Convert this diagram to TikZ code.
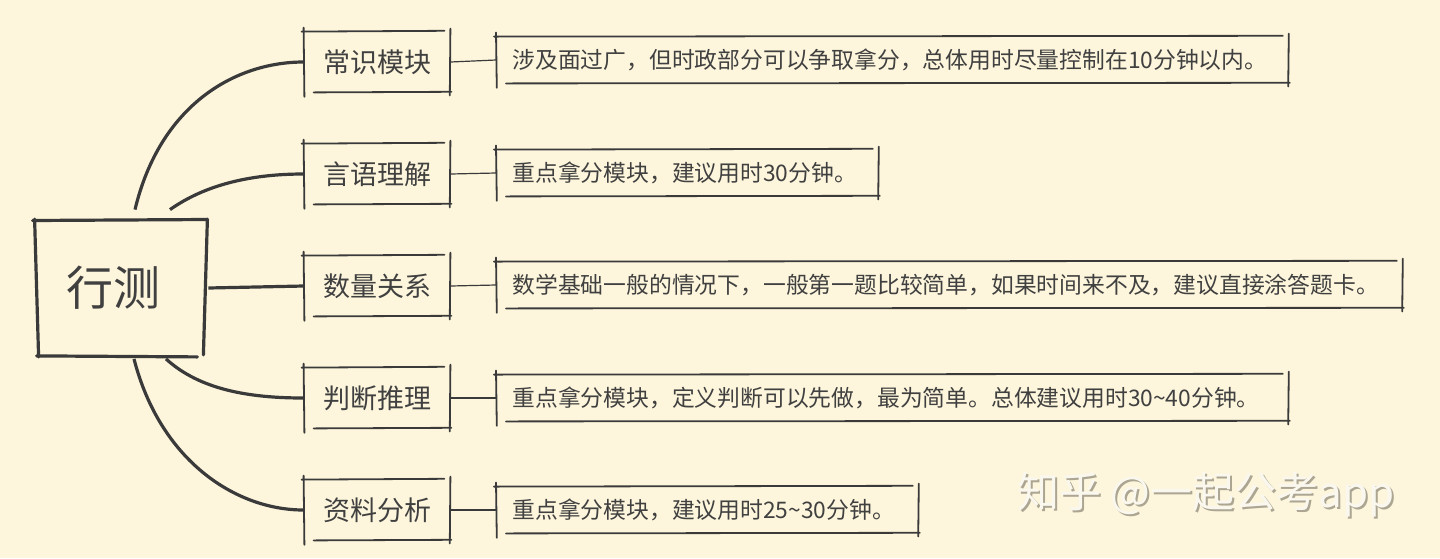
\documentclass[tikz,border=0pt]{standalone}
\usepackage{fontspec}
\setmainfont{Noto Sans CJK SC}
\usetikzlibrary{calc}
\definecolor{bg}{HTML}{FDF6DC}
\definecolor{ink}{HTML}{3A3A3A}
\definecolor{txt}{HTML}{404040}
\definecolor{wmshadow}{HTML}{ABA592}
\definecolor{wmfill}{HTML}{FAF7EE}
\tikzset{
  skl/.style={draw=ink, line cap=round},
  centerbox/.style={inner sep=0pt, minimum width=85pt, minimum height=66.5pt, text=txt, font=\fontsize{23.5}{28}\selectfont},
  catbox/.style={inner sep=0pt, minimum width=73pt, minimum height=30pt, text=txt, font=\fontsize{13.5}{16}\selectfont},
  descbox/.style={anchor=west, inner xsep=8pt, inner ysep=0pt, minimum height=23pt, align=left, text=txt, font=\fontsize{11.4}{14}\selectfont},
  branch/.style={draw=ink, line width=1.6pt},
  twig/.style={draw=ink, line width=0.6pt},
  wm/.style={font=\fontsize{21}{25}\selectfont}
}
\newcommand\skbox[2]{%
  \draw[skl,line width=#2] ([shift={(0pt,2pt)}]#1.north west) -- ([shift={(0.4pt,-2.2pt)}]#1.south west);
  \draw[skl,line width=#2] ([shift={(-1pt,0pt)}]#1.north west) -- ([shift={(-3pt,0.4pt)}]#1.north east);
  \draw[skl,line width=#2] ([shift={(0pt,1.5pt)}]#1.north east) -- ([shift={(-0.3pt,-1.5pt)}]#1.south east);
  \draw[skl,line width=#2] ([shift={(5pt,0pt)}]#1.south west) -- ([shift={(0.5pt,0.3pt)}]#1.south east);
}
\begin{document}
\begin{tikzpicture}[x=0.5pt,y=-0.5pt]
\fill[bg] (0,0) rectangle (1440,558);
\useasboundingbox (0,0) rectangle (1440,558);

% centre
\node[centerbox] (c) at (120,288) {\hspace*{-7pt}行测};
\draw[skl,line width=1.6pt] ([shift={(-1pt,0.3pt)}]c.north west) -- ([shift={(1pt,0.8pt)}]c.north east);
\draw[skl,line width=1.6pt] ([shift={(0pt,1pt)}]c.north west) -- ([shift={(2pt,-1pt)}]c.south west);
\draw[skl,line width=1.6pt] ([shift={(1pt,1pt)}]c.north east) -- ([shift={(-1pt,0pt)}]c.south east);
\draw[skl,line width=1.6pt] ([shift={(1pt,-0.5pt)}]c.south west) -- ([shift={(-4pt,-1pt)}]c.south east);

% categories
\node[catbox] (k1) at (377,62) {常识模块};
\node[catbox] (k2) at (377,174) {言语理解};
\node[catbox] (k3) at (377,286) {数量关系};
\node[catbox] (k4) at (377,398) {判断推理};
\node[catbox] (k5) at (377,510) {资料分析};
\foreach \k in {k1,k2,k3,k4,k5} {\skbox{\k}{0.9pt}}

% descriptions
\node[descbox, text width=380pt] (d1) at (496,60) {涉及面过广，但时政部分可以争取拿分，总体用时尽量控制在10分钟以内。};
\node[descbox, text width=175pt] (d2) at (496,173) {重点拿分模块，建议用时30分钟。};
\node[descbox, text width=437pt] (d3) at (496,285) {数学基础一般的情况下，一般第一题比较简单，如果时间来不及，建议直接涂答题卡。};
\node[descbox, text width=380pt] (d4) at (496,398) {重点拿分模块，定义判断可以先做，最为简单。总体建议用时30\textasciitilde40分钟。};
\node[descbox, text width=195pt] (d5) at (496,510) {重点拿分模块，建议用时25\textasciitilde30分钟。};
\foreach \d in {d1,d2,d3,d4,d5} {\skbox{\d}{0.9pt}}

% branches
\draw[branch] ([shift={(7.5pt,5.75pt)}]c.north) .. controls (160,105) and (235,62) .. (k1.west);
\draw[branch] ([shift={(25pt,5.75pt)}]c.north) .. controls (205,185) and (250,174) .. (k2.west);
\draw[branch] ([xshift=1.5pt]c.east) -- (k3.west);
\draw[branch] ([shift={(23pt,-2pt)}]c.south) .. controls (200,390) and (250,398) .. (k4.west);
\draw[branch] ([shift={(7pt,-2pt)}]c.south) .. controls (160,460) and (235,510) .. (k5.west);

% twigs
\foreach \i in {1,...,5} {\draw[twig] (k\i.east) -- (d\i.west);}

% watermark
\node[wm, text=wmshadow] (wms) at (1208,497) {知乎 @一起公考app};
\node[wm, text=wmfill] (wmt) at (1206,495) {知乎 @一起公考app};
\end{tikzpicture}
\end{document}
